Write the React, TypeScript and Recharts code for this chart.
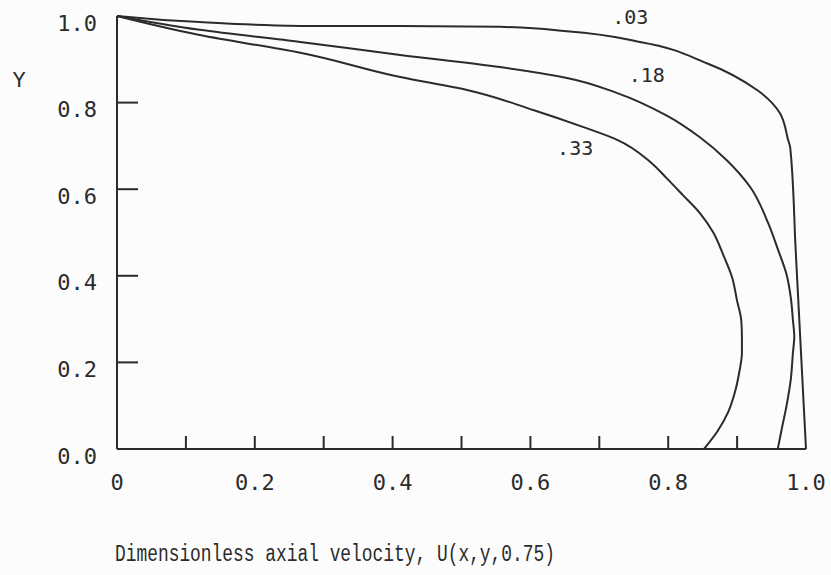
import {
  LineChart,
  Line,
  XAxis,
  YAxis,
  ReferenceDot,
} from "recharts";

// velocity profiles U vs Y, one per curve label
const curve03 = [
  { u: 0, y: 1.0 },
  { u: 0.12, y: 0.986 },
  { u: 0.266, y: 0.977 },
  { u: 0.411, y: 0.977 },
  { u: 0.556, y: 0.975 },
  { u: 0.653, y: 0.965 },
  { u: 0.759, y: 0.94 },
  { u: 0.856, y: 0.891 },
  { u: 0.929, y: 0.829 },
  { u: 0.962, y: 0.776 },
  { u: 0.974, y: 0.714 },
  { u: 0.977, y: 0.697 },
  { u: 0.985, y: 0.46 },
  { u: 1.0, y: 0 },
];

const curve18 = [
  { u: 0, y: 1.0 },
  { u: 0.12, y: 0.968 },
  { u: 0.266, y: 0.94 },
  { u: 0.411, y: 0.91 },
  { u: 0.556, y: 0.882 },
  { u: 0.653, y: 0.857 },
  { u: 0.726, y: 0.822 },
  { u: 0.798, y: 0.77 },
  { u: 0.846, y: 0.72 },
  { u: 0.885, y: 0.667 },
  { u: 0.919, y: 0.605 },
  { u: 0.945, y: 0.522 },
  { u: 0.959, y: 0.462 },
  { u: 0.972, y: 0.402 },
  { u: 0.978, y: 0.349 },
  { u: 0.981, y: 0.298 },
  { u: 0.983, y: 0.259 },
  { u: 0.981, y: 0.222 },
  { u: 0.978, y: 0.162 },
  { u: 0.972, y: 0.102 },
  { u: 0.965, y: 0.048 },
  { u: 0.959, y: 0 },
];

const curve33 = [
  { u: 0, y: 1.0 },
  { u: 0.12, y: 0.956 },
  { u: 0.266, y: 0.915 },
  { u: 0.411, y: 0.859 },
  { u: 0.508, y: 0.829 },
  { u: 0.604, y: 0.783 },
  { u: 0.676, y: 0.744 },
  { u: 0.726, y: 0.714 },
  { u: 0.774, y: 0.663 },
  { u: 0.798, y: 0.625 },
  { u: 0.821, y: 0.587 },
  { u: 0.846, y: 0.545 },
  { u: 0.865, y: 0.501 },
  { u: 0.88, y: 0.448 },
  { u: 0.893, y: 0.395 },
  { u: 0.9, y: 0.342 },
  { u: 0.906, y: 0.298 },
  { u: 0.907, y: 0.259 },
  { u: 0.907, y: 0.222 },
  { u: 0.903, y: 0.176 },
  { u: 0.897, y: 0.132 },
  { u: 0.887, y: 0.085 },
  { u: 0.872, y: 0.042 },
  { u: 0.852, y: 0 },
];

const curveLabels = [
  { text: ".03", u: 0.745, y: 0.998 },
  { text: ".18", u: 0.769, y: 0.864 },
  { text: ".33", u: 0.665, y: 0.695 },
];

const xTicks = [0, 0.1, 0.2, 0.3, 0.4, 0.5, 0.6, 0.7, 0.8, 0.9, 1.0];
const xTickLabels = ["0", "", "0.2", "", "0.4", "", "0.6", "", "0.8", "", "1.0"];
const yTicks = [0, 0.2, 0.4, 0.6, 0.8, 1.0];
const yTickLabels = ["0.0", "0.2", "0.4", "0.6", "0.8", "1.0"];

const ink = "#2b2b2b";
const tickFont = "'DejaVu Sans Mono', monospace";
const textFont = "'Liberation Mono', monospace";

function XTick(props: any) {
  const { x, y, index } = props;
  const inner = index > 0 && index < xTicks.length - 1;
  return (
    <g>
      {inner && (
        <line x1={x} y1={y} x2={x} y2={y - 13} stroke={ink} strokeWidth={2} />
      )}
      <text
        x={x}
        y={y + 33}
        textAnchor="middle"
        dominantBaseline="central"
        fontFamily={tickFont}
        fontSize={22}
        fill={ink}
      >
        {xTickLabels[index]}
      </text>
    </g>
  );
}

function YTick(props: any) {
  const { x, y, index } = props;
  const inner = index > 0 && index < yTicks.length - 1;
  return (
    <g>
      {inner && (
        <line x1={x} y1={y} x2={x + 21} y2={y} stroke={ink} strokeWidth={2} />
      )}
      <text
        x={x - 20}
        y={y + 7}
        textAnchor="end"
        dominantBaseline="central"
        fontFamily={tickFont}
        fontSize={22}
        fill={ink}
      >
        {yTickLabels[index]}
      </text>
    </g>
  );
}

export default function App() {
  return (
    <div
      style={{
        position: "absolute",
        left: 0,
        top: 0,
        width: 831,
        height: 575,
        background: "#fcfcfc",
      }}
    >
      <LineChart
        width={831}
        height={575}
        margin={{ top: 16, right: 25, bottom: 0, left: 0 }}
      >
        <XAxis
          dataKey="u"
          type="number"
          domain={[0, 1]}
          ticks={xTicks}
          interval={0}
          tickSize={0}
          tickMargin={0}
          tickLine={false}
          tick={<XTick />}
          height={126}
          axisLine={{ stroke: ink, strokeWidth: 2 }}
          label={{
            content: (p: any) => (
              <text
                x={p.viewBox.x - 2}
                y={p.viewBox.y + 106}
                textAnchor="start"
                dominantBaseline="central"
                fontFamily={textFont}
                fontSize={23}
                textLength={440}
                lengthAdjust="spacingAndGlyphs"
                fill={ink}
              >
                Dimensionless axial velocity, U(x,y,0.75)
              </text>
            ),
          }}
        />
        <YAxis
          type="number"
          domain={[0, 1]}
          ticks={yTicks}
          interval={0}
          tickSize={0}
          tickMargin={0}
          tickLine={false}
          tick={<YTick />}
          width={117}
          axisLine={{ stroke: ink, strokeWidth: 2 }}
          label={{
            content: (p: any) => (
              <text
                x={p.viewBox.x + 19}
                y={p.viewBox.y + 65}
                textAnchor="middle"
                dominantBaseline="central"
                fontFamily={textFont}
                fontSize={22}
                fill={ink}
              >
                Y
              </text>
            ),
          }}
        />
        {[curve03, curve18, curve33].map((d, i) => (
          <Line
            key={i}
            data={d}
            dataKey="y"
            type="monotoneY"
            stroke={ink}
            strokeWidth={2}
            dot={false}
            isAnimationActive={false}
          />
        ))}
        {curveLabels.map((c) => (
          <ReferenceDot
            key={c.text}
            x={c.u}
            y={c.y}
            r={0}
            fill="none"
            stroke="none"
            label={{
              value: c.text,
              position: "center",
              fontFamily: tickFont,
              fontSize: 20,
              fill: ink,
            }}
          />
        ))}
      </LineChart>
    </div>
  );
}
